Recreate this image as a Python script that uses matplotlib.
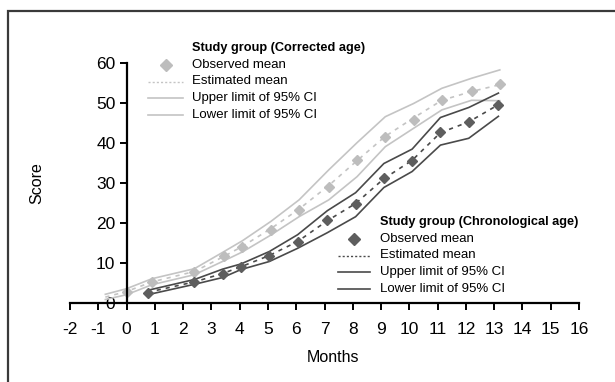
import numpy as np
import matplotlib.pyplot as plt
from matplotlib.lines import Line2D
from matplotlib.patches import Rectangle

plt.rcParams['font.family'] = ['Liberation Sans', 'DejaVu Sans']
plt.rcParams['axes.unicode_minus'] = False

# Study group, corrected age (light grey)
corr_months = [-0.75, 0.0, 0.9, 2.4, 3.45, 4.1, 5.1, 6.1, 7.15, 8.15, 9.15, 10.15, 11.15, 12.2, 13.2]
corr_obs = [1.5, 2.7, 5.2, 7.7, 11.6, 14.0, 18.3, 23.2, 29.0, 35.6, 41.5, 45.7, 50.6, 53.0, 54.6]
corr_est = [1.4, 2.8, 5.2, 7.8, 11.6, 14.1, 18.5, 23.4, 29.3, 35.5, 41.6, 46.2, 50.6, 52.8, 54.5]
corr_upper = [2.1, 3.5, 6.0, 8.5, 12.8, 15.5, 20.3, 25.7, 33.2, 40.0, 46.5, 49.8, 53.6, 56.1, 58.2]
corr_lower = [0.8, 2.0, 4.5, 7.0, 10.5, 12.7, 16.9, 21.5, 25.7, 31.5, 39.0, 43.6, 48.2, 50.6, 50.5]

# Study group, chronological age (dark grey)
chron_months = [0.75, 2.4, 3.4, 4.05, 5.05, 6.05, 7.1, 8.1, 9.1, 10.1, 11.1, 12.1, 13.15]
chron_obs = [2.5, 5.2, 7.2, 8.9, 11.7, 15.2, 20.7, 24.8, 31.2, 35.4, 42.7, 45.2, 49.5]
chron_est = [2.6, 5.2, 7.3, 9.0, 11.8, 15.3, 20.5, 24.8, 31.0, 35.6, 42.5, 45.2, 49.5]
chron_upper = [3.1, 5.8, 8.4, 9.7, 12.8, 17.0, 23.0, 27.5, 34.8, 38.4, 46.3, 48.8, 52.4]
chron_lower = [2.0, 4.6, 6.3, 8.3, 10.3, 13.6, 17.5, 21.5, 28.8, 32.8, 39.4, 41.1, 46.6]

x_ticks = list(range(-2, 17))
y_ticks = [0, 10, 20, 30, 40, 50, 60]

light = '#c4c4c4'
light_mk = '#bdbdbd'
dark = '#4a4a4a'
dark_mk = '#5e5e5e'

W, H = 615, 382
fig = plt.figure(figsize=(W / 100, H / 100), dpi=100)
ax = fig.add_axes([70 / W, 1 - 302.7 / H, (579 - 70) / W, (302.7 - 62.7) / H])

# corrected age
ax.plot(corr_months, corr_upper, color=light, lw=1.2)
ax.plot(corr_months, corr_lower, color=light, lw=1.2)
ax.plot(corr_months, corr_est, color=light, lw=1.2, dashes=(2.5, 3))
ax.plot(corr_months[1:], corr_obs[1:], ls='none', marker='D', ms=5.5, color=light_mk)

# chronological age
ax.plot(chron_months, chron_upper, color=dark, lw=1.2)
ax.plot(chron_months, chron_lower, color=dark, lw=1.2)
ax.plot(chron_months, chron_est, color=dark, lw=1.2, dashes=(2.5, 3))
ax.plot(chron_months, chron_obs, ls='none', marker='D', ms=5.5, color=dark_mk)

ax.set_xlim(-2, 16)
ax.set_ylim(0, 60)
ax.set_xticks(x_ticks)
ax.set_yticks(y_ticks)
ax.spines['left'].set_position(('data', 0))
ax.spines['top'].set_visible(False)
ax.spines['right'].set_visible(False)
for s in ('left', 'bottom'):
    ax.spines[s].set_linewidth(1.6)
ax.tick_params(axis='x', direction='out', length=5, width=1.4, pad=9, labelsize=12.5)
ax.tick_params(axis='y', direction='out', length=5, width=1.4, pad=3, labelsize=12.5)

fig.text(37 / W, 1 - 183 / H, 'Score', rotation=90, ha='center', va='center', fontsize=11.5)
fig.text(333 / W, 1 - 358 / H, 'Months', ha='center', va='center', fontsize=11.5)


def px(x, y):
    return x / W, 1 - y / H


def legend_block(x_text, y_title, title, color, mcolor, h0, h1):
    fig.text(*px(x_text, y_title), title, fontsize=9.2, fontweight='bold', va='center')
    labels = ['Observed mean', 'Estimated mean', 'Upper limit of 95% CI', 'Lower limit of 95% CI']
    for i, lab in enumerate(labels):
        yy = y_title + 17 + i * 16.5
        fig.text(*px(x_text, yy), lab, fontsize=9.5, va='center')
        xa, ya = px(h0, yy)
        xb, _ = px(h1, yy)
        if i == 0:
            fig.add_artist(Line2D([(xa + xb) / 2], [ya], ls='none', marker='D', ms=6, color=mcolor))
        elif i == 1:
            fig.add_artist(Line2D([xa, xb], [ya, ya], color=color, lw=1.0, dashes=(1.5, 1.5)))
        else:
            fig.add_artist(Line2D([xa, xb], [ya, ya], color=color, lw=1.2))


legend_block(192, 48, 'Study group (Corrected age)', light, light_mk, 148, 183)
legend_block(380, 222, 'Study group (Chronological age)', dark, dark_mk, 338, 370)

# outer frame of the original figure
fig.add_artist(Rectangle(px(8, 400), 1.2, (400 - 11) / H, transform=fig.transFigure,
                         fill=False, ec='#3a3a3a', lw=1.6, clip_on=False))

fig.savefig('out.png', dpi=100)
